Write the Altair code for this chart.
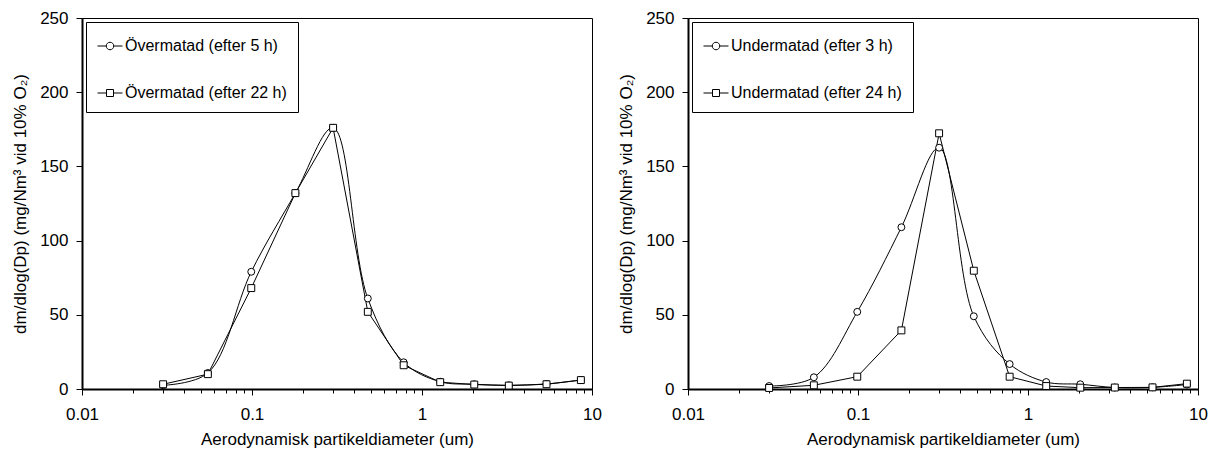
import altair as alt
import pandas as pd

# ---- data ----
diam = [0.03, 0.055, 0.099, 0.18, 0.30, 0.48, 0.78, 1.28, 2.03, 3.24, 5.4, 8.6]
over_5h = [2.5, 10.8, 79, 132, 176, 61, 18, 4.9, 3.2, 2.5, 3.4, 6.1]
over_22h = [3.2, 10.0, 68, 132, 176, 52, 16, 4.6, 3.0, 2.3, 3.2, 6.0]
under_3h = [2.0, 7.9, 52, 109, 162.6, 49, 16.8, 4.7, 3.2, 1.0, 1.1, 3.0]
under_24h = [0.7, 2.5, 8.3, 39.5, 172.3, 79.7, 8.3, 2.0, 0.9, 1.0, 1.1, 3.6]
names_left = ["Övermatad (efter 5 h)", "Övermatad (efter 22 h)"]
names_right = ["Undermatad (efter 3 h)", "Undermatad (efter 24 h)"]
x_ticks = [m * d for d in [0.01, 0.1, 1] for m in range(1, 10)] + [10]
y_ticks = [0, 50, 100, 150, 200, 250]
x_title = "Aerodynamisk partikeldiameter (um)"
y_title = "dm/dlog(Dp) (mg/Nm³ vid 10% O₂)"

FONT = "Liberation Sans"
CIRCLE_PATH = "M-1,0H-0.3M0.3,0H1M-0.3,0A0.3,0.3,0,1,1,0.3,0A0.3,0.3,0,1,1,-0.3,0Z"
SQUARE_PATH = "M-1,0H-0.28M0.28,0H1M-0.28,-0.28H0.28V0.28H-0.28Z"
IS_MAJOR = "abs(log(datum.value)/LN10 - round(log(datum.value)/LN10)) < 1e-6"

W, H = 510, 371


def panel(series_a, series_b, names):
    df = pd.DataFrame({
        "d": diam + diam,
        "v": series_a + series_b,
        "s": [names[0]] * len(diam) + [names[1]] * len(diam),
    })
    xs = alt.Scale(type="log", domain=[0.01, 10], nice=False)
    ys = alt.Scale(domain=[0, 250], nice=False)
    ax = alt.Axis(values=x_ticks, format="~g", title=x_title, orient="bottom",
                  labelExpr=IS_MAJOR + " ? datum.label : ''",
                  tickSize={"condition": {"test": IS_MAJOR, "value": 6}, "value": 4},
                  labelPadding=11, titlePadding=9, domainWidth=2,
                  labelFlush=False, labelOverlap=False, grid=False)
    ay = alt.Axis(values=y_ticks, title=y_title, tickSize=6, labelPadding=8,
                  titlePadding=10, domainWidth=2, grid=False, labelFlush=False)

    base = alt.Chart(df)
    a = base.transform_filter(alt.datum.s == names[0])
    b = base.transform_filter(alt.datum.s == names[1])
    X = alt.X("d:Q", scale=xs, axis=ax)
    Y = alt.Y("v:Q", scale=ys, axis=ay)

    line_a = a.mark_line(interpolate="catmull-rom", color="black", strokeWidth=1).encode(x=X, y=Y)
    line_b = b.mark_line(color="black", strokeWidth=1).encode(x=X, y=Y)
    pts_a = a.mark_point(shape="circle", size=48, filled=True, fill="white",
                         stroke="black", strokeWidth=1, opacity=1).encode(x=X, y=Y)
    pts_b = b.mark_point(shape="square", size=48, filled=True, fill="white",
                         stroke="black", strokeWidth=1, opacity=1).encode(x=X, y=Y)
    leg = base.transform_filter("datum.v < -1000").mark_point(
        filled=False, color="black", strokeWidth=1, opacity=1).encode(
        x=X, y=Y,
        shape=alt.Shape("s:N", scale=alt.Scale(domain=names, range=[CIRCLE_PATH, SQUARE_PATH]),
                        legend=alt.Legend(title=None, orient="top-left", offset=4, padding=11,
                                          rowPadding=26, symbolSize=625, symbolStrokeWidth=1,
                                          symbolStrokeColor="black",
                                          labelFont=FONT, labelFontSize=16, labelColor="black",
                                          labelOffset=2, labelLimit=400,
                                          strokeColor="black", fillColor="white")),
    )
    return alt.layer(line_a, line_b, pts_a, pts_b, leg).properties(width=W, height=H)


chart = alt.hconcat(
    panel(over_5h, over_22h, names_left),
    panel(under_3h, under_24h, names_right),
    spacing=15,
).resolve_scale(
    shape="independent", x="independent", y="independent"
).resolve_legend(shape="independent").properties(
    padding={"left": 11, "top": 8, "right": 5, "bottom": 0},
    background="white",
).configure_view(
    stroke="black", strokeWidth=1
).configure_axis(
    labelFont=FONT, labelFontSize=17, labelColor="black",
    titleFont=FONT, titleFontSize=17, titleFontWeight="normal", titleColor="black",
    domainColor="black", tickColor="black", tickWidth=1,
)

chart.save("out.html", embed_options={"renderer": "svg", "actions": False})
